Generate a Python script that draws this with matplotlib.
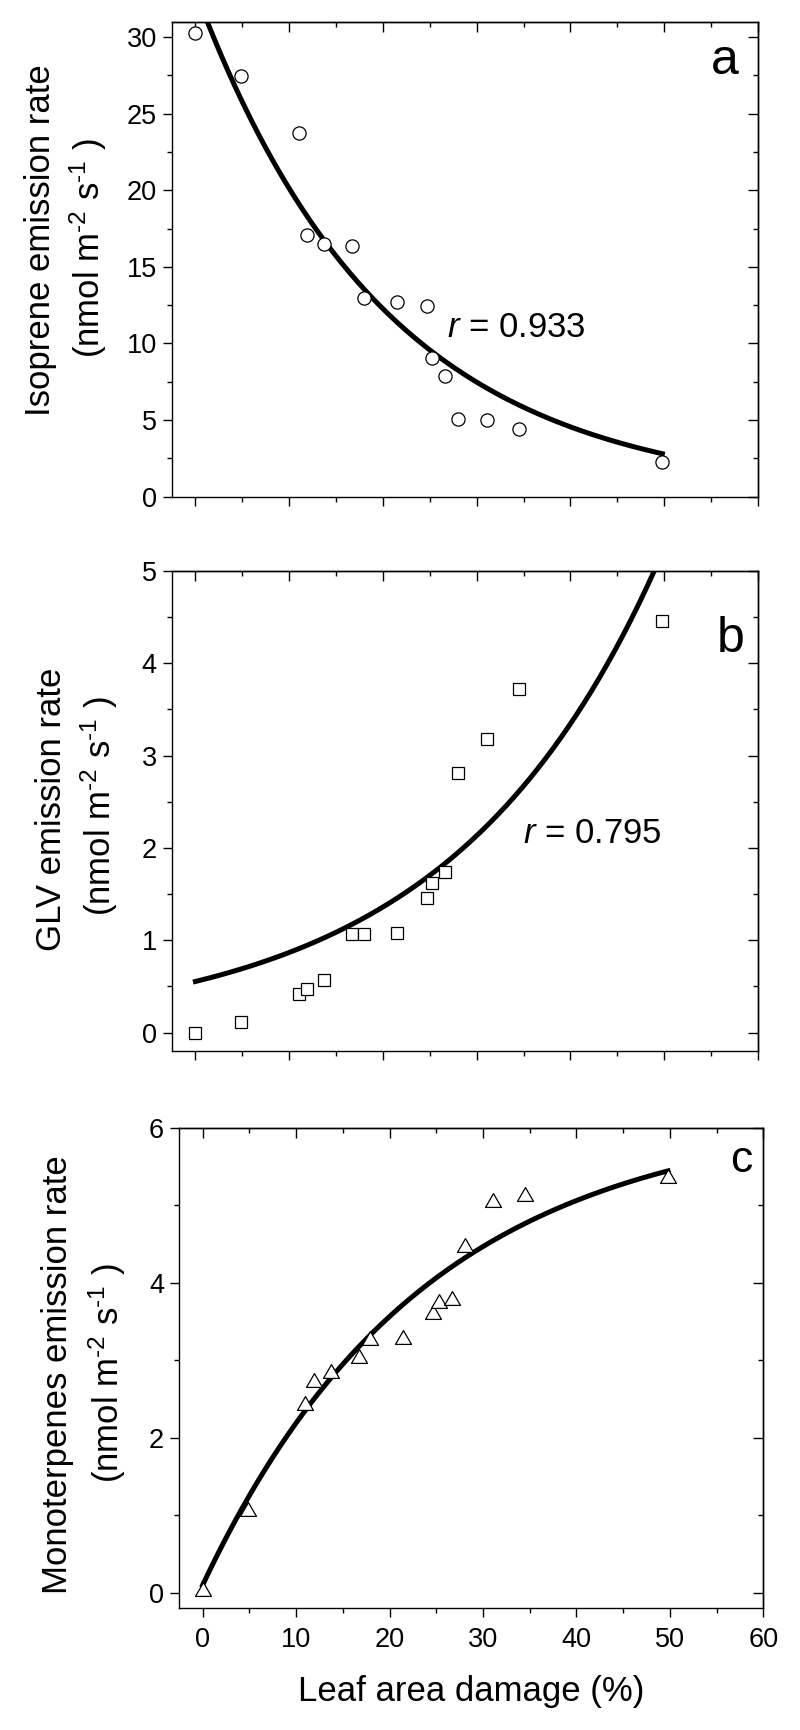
import numpy as np
import matplotlib
matplotlib.use('Agg')
import matplotlib.pyplot as plt
from matplotlib.ticker import MultipleLocator

plt.rcParams['font.family'] = ['Liberation Sans', 'DejaVu Sans']
plt.rcParams['mathtext.fontset'] = 'custom'
plt.rcParams['mathtext.rm'] = 'Liberation Sans'
plt.rcParams['mathtext.it'] = 'Liberation Sans:italic'
plt.rcParams['mathtext.default'] = 'rm'
plt.rcParams['axes.linewidth'] = 1.0

# ---------------- data ----------------
damage = [0.0, 4.9, 11.0, 11.9, 13.75, 16.7, 17.95, 21.45, 24.7, 25.25,
          26.65, 28.05, 31.1, 34.55, 49.8]
isoprene = [30.23, 27.48, 23.76, 17.1, 16.5, 16.35, 12.98, 12.72, 12.43,
            9.08, 7.9, 5.07, 5.02, 4.41, 2.28]
glv = [0.0, 0.112, 0.42, 0.477, 0.564, 1.07, 1.07, 1.077, 1.46, 1.616,
       1.735, 2.81, 3.185, 3.72, 4.458]
monoterpenes = [0.044, 1.08, 2.444, 2.746, 2.866, 3.056, 3.293, 3.306, 3.621,
                3.767, 3.81, 4.487, 5.073, 5.151, 5.375]

# fitted regression curves (parameters)
iso_fit = (33.0, 0.0495)          # y = A * exp(-k x)
glv_fit = (0.553, 0.045)          # y = A * exp(k x)
mono_fit = (0.1, 6.1, 0.042)      # y = c + a * (1 - exp(-k x))
fit_range = (0.0, 49.8)

panel_letters = ['a', 'b', 'c']
r_texts = ['0.933', '0.795']
ylabel_line1 = ['Isoprene emission rate', 'GLV emission rate',
                'Monoterpenes emission rate']
ylabel_line2 = r'(nmol m$^{‐2}$ s$^{‐1}$ )'
xlabel = 'Leaf area damage (%)'

# ---------------- figure ----------------
W, H = 800, 1730
fig = plt.figure(figsize=(W / 100, H / 100), dpi=100)


def px_axes(l, t, r, b):
    return fig.add_axes([l / W, 1 - b / H, (r - l) / W, (b - t) / H])


def ftext(x, y, s, **kw):
    return fig.text(x / W, 1 - y / H, s, **kw)


def style(ax, ymaj, ymin, ylim, show_x):
    ax.set_xlim(-2.5, 60)
    ax.set_ylim(*ylim)
    ax.xaxis.set_major_locator(MultipleLocator(10))
    ax.xaxis.set_minor_locator(MultipleLocator(5))
    ax.yaxis.set_major_locator(MultipleLocator(ymaj))
    ax.yaxis.set_minor_locator(MultipleLocator(ymin))
    ax.tick_params(which='both', direction='out', width=1.0,
                   labelsize=19.5, color='black')
    ax.tick_params(which='major', length=6.5)
    ax.tick_params(which='minor', length=3.6)
    ax.tick_params(axis='y', pad=4.5)
    ax.tick_params(axis='x', pad=7, labelbottom=show_x)
    top = ax.secondary_xaxis('top')
    top.xaxis.set_major_locator(MultipleLocator(10))
    top.xaxis.set_minor_locator(MultipleLocator(5))
    top.tick_params(which='both', direction='in', width=1.0, labeltop=False)
    top.tick_params(which='major', length=7)
    top.tick_params(which='minor', length=3.5)
    right = ax.secondary_yaxis('right')
    right.yaxis.set_major_locator(MultipleLocator(ymaj))
    right.yaxis.set_minor_locator(MultipleLocator(ymin))
    right.tick_params(which='both', direction='in', width=1.0, labelright=False)
    right.tick_params(which='major', length=7)
    right.tick_params(which='minor', length=3.5)


x = np.array(damage)
xf = np.linspace(fit_range[0], fit_range[1], 300)

# equilateral triangle marker
tri = [(0, 0.433), (-0.5, -0.433), (0.5, -0.433), (0, 0.433)]

# ---- panel a ----
axa = px_axes(172, 21.7, 758, 496.7)
style(axa, 5, 2.5, (0, 31), False)
A, k = iso_fit
axa.plot(xf, A * np.exp(-k * xf), color='black', lw=3.6, zorder=2)
axa.plot(x, isoprene, linestyle='none', marker='o', ms=9.5, mfc='white',
         mec='black', mew=0.9, zorder=3)

# ---- panel b ----
axb = px_axes(172, 571, 758, 1051)
style(axb, 1, 0.5, (-0.2, 5), False)
A, k = glv_fit
axb.plot(xf, A * np.exp(k * xf), color='black', lw=3.6, zorder=2)
axb.plot(x, glv, linestyle='none', marker='s', ms=8.2, mfc='white',
         mec='black', mew=0.9, zorder=3)

# ---- panel c ----
axc = px_axes(179.3, 1128, 763.3, 1608.3)
style(axc, 2, 1, (-0.2, 6), True)
c0, a0, k = mono_fit
axc.plot(xf, c0 + a0 * (1 - np.exp(-k * xf)), color='black', lw=3.6, zorder=2)
axc.plot(x, monoterpenes, linestyle='none', marker=tri, ms=11.5, mfc='white',
         mec='black', mew=0.9, zorder=3)

# ---- texts ----
ftext(739, 74, panel_letters[0], fontsize=36, ha='right', va='baseline')
ftext(745, 652, panel_letters[1], fontsize=36, ha='right', va='baseline')
ftext(752.7, 1171.7, panel_letters[2], fontsize=32, ha='right', va='baseline')

ftext(446.7, 336.7, r'$\mathit{r}$ = ' + r_texts[0], fontsize=25,
      ha='left', va='baseline')
ftext(523, 843, r'$\mathit{r}$ = ' + r_texts[1], fontsize=25,
      ha='left', va='baseline')

ylab_pos = [((50, 240), (100, 248)),
            ((61, 809), (111, 806)),
            ((67, 1375), (119, 1373))]
for (p1, p2), l1 in zip(ylab_pos, ylabel_line1):
    ftext(p1[0], p1[1], l1, fontsize=25, rotation=90, rotation_mode='anchor',
          ha='center', va='baseline')
    ftext(p2[0], p2[1], ylabel_line2, fontsize=25, rotation=90,
          rotation_mode='anchor', ha='center', va='baseline')

ftext(471.5, 1700.7, xlabel, fontsize=25, ha='center', va='baseline')

fig.savefig('out.png', dpi=100)
